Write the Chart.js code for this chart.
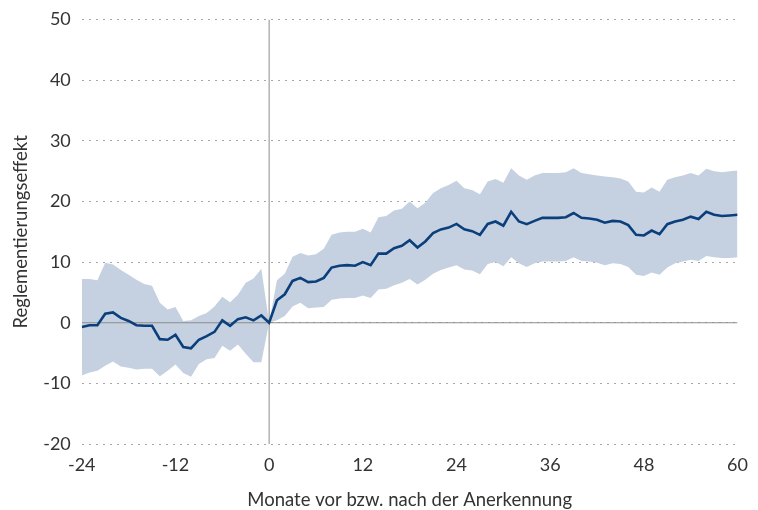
<!DOCTYPE html>
<html>
<head>
<meta charset="utf-8">
<script src="https://cdn.jsdelivr.net/npm/chart.js@4"></script>
<style>
  body { margin: 0; background: #fff; }
  #wrap { width: 758px; height: 510px; }
</style>
</head>
<body>
<div id="wrap"><canvas id="myChart" width="758" height="510"></canvas></div>
<script>
// months -24 .. 60
var months = [];
for (var m = -24; m <= 60; m++) months.push(m);

var effect = [
  -0.7, -0.4, -0.4, 1.5, 1.7, 0.8, 0.3, -0.4, -0.5, -0.5, -2.7, -2.8,
  -2.0, -4.0, -4.2, -2.8, -2.2, -1.5, 0.4, -0.5, 0.6, 0.9, 0.4, 1.2,
  0.0,
  3.7, 4.7, 6.9, 7.4, 6.7, 6.8, 7.4, 9.1, 9.4, 9.5, 9.4, 10.0,
  9.5, 11.4, 11.4, 12.3, 12.7, 13.6, 12.4, 13.4, 14.8, 15.4, 15.7, 16.3,
  15.4, 15.1, 14.5, 16.3, 16.7, 16.0, 18.3, 16.7, 16.25, 16.8, 17.3, 17.3,
  17.3, 17.4, 18.1, 17.3, 17.2, 17.0, 16.5, 16.8, 16.7, 16.1, 14.5, 14.4,
  15.2, 14.6, 16.25, 16.7, 17.0, 17.5, 17.1, 18.3, 17.8, 17.6, 17.7, 17.8
];

var upper = [
  7.2, 7.2, 7.0, 9.9, 9.6, 8.7, 7.9, 7.1, 6.4, 6.1, 3.3, 2.2,
  2.6, 0.3, 0.4, 1.1, 1.6, 2.7, 4.3, 3.4, 4.6, 6.6, 7.3, 8.9,
  0.0,
  7.0, 8.1, 10.9, 11.5, 11.1, 11.3, 12.2, 14.5, 14.9, 15.0, 15.0, 15.5,
  14.9, 17.4, 17.6, 18.5, 18.8, 20.0, 18.9, 19.8, 21.4, 22.2, 22.7, 23.4,
  22.2, 21.9, 21.2, 23.3, 23.7, 23.1, 25.5, 24.3, 23.6, 24.3, 24.7, 24.7,
  24.7, 24.8, 25.5, 24.7, 24.5, 24.3, 24.1, 24.0, 23.8, 23.3, 21.6, 21.5,
  22.3, 21.6, 23.6, 24.0, 24.3, 24.7, 24.3, 25.4, 25.0, 24.8, 25.0, 25.1
];

var lower = [
  -8.7, -8.2, -7.9, -7.1, -6.4, -7.2, -7.4, -7.7, -7.6, -7.6, -8.8, -7.9,
  -6.9, -8.3, -8.9, -6.8, -6.0, -5.8, -3.8, -4.6, -3.6, -5.1, -6.5, -6.5,
  0.0,
  0.4, 1.1, 2.7, 3.3, 2.4, 2.5, 2.6, 3.8, 4.0, 4.1, 4.1, 4.5,
  4.1, 5.5, 5.6, 6.2, 6.6, 7.2, 6.3, 7.1, 8.1, 8.7, 9.1, 9.5,
  8.8, 8.6, 8.0, 9.7, 10.0, 9.3, 10.8, 9.8, 9.2, 9.8, 10.1, 10.1,
  10.1, 10.2, 10.8, 10.2, 10.1, 9.9, 9.5, 9.8, 9.7, 9.2, 7.9, 7.7,
  8.3, 7.9, 9.1, 9.8, 10.1, 10.4, 10.2, 11.0, 10.8, 10.7, 10.7, 10.8
];

var yTicks = [-20, -10, 0, 10, 20, 30, 40, 50];
var xTicks = [-24, -12, 0, 12, 24, 36, 48, 60];

function pts(arr) {
  var out = [];
  for (var i = 0; i < arr.length; i++) out.push({x: months[i], y: arr[i]});
  return out;
}

var lineColor = '#0b3f7c';
var bandColor = '#c5d1e0';
var refColor = '#8c8c8c';

var chartData = {
  datasets: [
    {
      label: 'Reglementierungseffekt',
      data: pts(effect),
      borderColor: lineColor,
      borderWidth: 2.6,
      pointRadius: 0,
      tension: 0,
      fill: false
    },
    {
      label: 'zero',
      data: [{x: -24, y: 0}, {x: 60, y: 0}],
      borderColor: refColor,
      borderWidth: 1,
      pointRadius: 0,
      fill: false
    },
    {
      label: 'anerkennung',
      data: [{x: 0, y: -20}, {x: 0, y: 50}],
      borderColor: refColor,
      borderWidth: 1,
      pointRadius: 0,
      fill: false
    },
    {
      label: 'upper',
      data: pts(upper),
      borderWidth: 0,
      borderColor: 'rgba(0,0,0,0)',
      backgroundColor: bandColor,
      pointRadius: 0,
      tension: 0,
      fill: '+1'
    },
    {
      label: 'lower',
      data: pts(lower),
      borderWidth: 0,
      borderColor: 'rgba(0,0,0,0)',
      pointRadius: 0,
      tension: 0,
      fill: false
    }
  ]
};

var fam = 'Lato, "Source Sans Pro", sans-serif';
var xTickFont = {family: fam, size: 18};
var yTickFont = {family: fam, size: 18, lineHeight: 0.95};
var titleFont = {family: fam, size: 18.5, lineHeight: 1.1};

new Chart(document.getElementById('myChart'), {
  type: 'line',
  data: chartData,
  options: {
    responsive: false,
    animation: false,
    layout: {padding: {left: 10, right: 20, top: 0, bottom: 0}},
    plugins: {legend: {display: false}, tooltip: {enabled: false}},
    scales: {
      x: {
        type: 'linear',
        min: -24,
        max: 60,
        afterBuildTicks: function (axis) {
          axis.ticks = xTicks.map(function (v) { return {value: v}; });
        },
        grid: {display: false, drawTicks: false},
        border: {display: false},
        ticks: {color: '#333', font: xTickFont, padding: 10, maxRotation: 0},
        title: {
          display: true,
          text: 'Monate vor bzw. nach der Anerkennung',
          color: '#333',
          font: titleFont,
          padding: {top: 4, bottom: 0}
        }
      },
      y: {
        min: -20,
        max: 50,
        afterBuildTicks: function (axis) {
          axis.ticks = yTicks.map(function (v) { return {value: v}; });
        },
        grid: {color: '#a6a6a6', lineWidth: 1, drawTicks: false},
        border: {display: false, dash: [2, 5]},
        ticks: {color: '#333', font: yTickFont, padding: 11},
        title: {
          display: true,
          text: 'Reglementierungseffekt',
          color: '#333',
          font: {family: fam, size: 18.5},
          padding: {top: 0, bottom: 0}
        }
      }
    }
  }
});
</script>
</body>
</html>
